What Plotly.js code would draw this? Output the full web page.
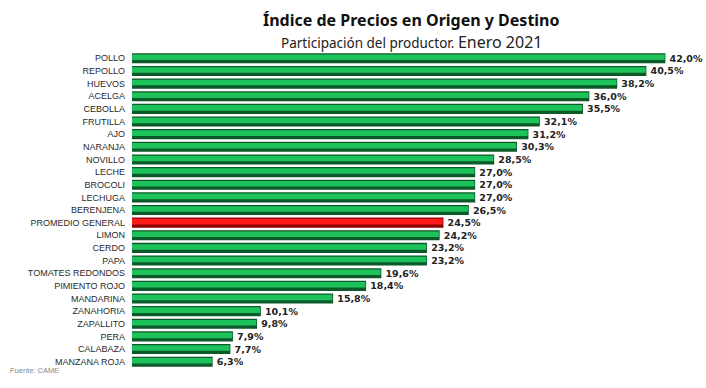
<!DOCTYPE html>
<html><head><meta charset="utf-8">
<script src="https://cdn.plot.ly/plotly-3.0.1.min.js"></script>
<style>html,body{margin:0;padding:0;background:#fff}#chart{width:706px;height:388px}</style>
</head><body><div id="chart"></div>
<script>
const categories = ["POLLO","REPOLLO","HUEVOS","ACELGA","CEBOLLA","FRUTILLA","AJO","NARANJA","NOVILLO","LECHE","BROCOLI","LECHUGA","BERENJENA","PROMEDIO GENERAL","LIMON","CERDO","PAPA","TOMATES REDONDOS","PIMIENTO ROJO","MANDARINA","ZANAHORIA","ZAPALLITO","PERA","CALABAZA","MANZANA ROJA"];
const values = [42.0,40.5,38.2,36.0,35.5,32.1,31.2,30.3,28.5,27.0,27.0,27.0,26.5,24.5,24.2,23.2,23.2,19.6,18.4,15.8,10.1,9.8,7.9,7.7,6.3];
const highlight = "PROMEDIO GENERAL";

const labels = values.map(v => '\u2009' + v.toFixed(1).replace('.', ',') + '%');
const darkCols = categories.map(c => c === highlight ? '#8f0000' : '#0b5a29');
const lightCols = categories.map(c => c === highlight ? '#ff1a1a' : '#1ec25a');

const dark = {
  type: 'bar', orientation: 'h', x: values, y: categories,
  width: 0.68, marker: {color: darkCols, line: {color: darkCols, width: 1.5}},
  text: labels, textposition: 'outside', cliponaxis: false, constraintext: 'none',
  textfont: {family: 'DejaVu Sans', size: 9.5, color: '#222', weight: 'bold'},
  hoverinfo: 'skip'
};
const light = {
  type: 'bar', orientation: 'h', x: values, y: categories,
  width: 0.44, offset: -0.3, marker: {color: lightCols},
  hoverinfo: 'skip'
};

const layout = {
  width: 706, height: 388,
  margin: {l: 132, r: 16, t: 52, b: 20},
  barmode: 'overlay', showlegend: false,
  paper_bgcolor: '#fff', plot_bgcolor: '#fff',
  xaxis: {range: [0, 44], visible: false, fixedrange: true},
  yaxis: {autorange: 'reversed', type: 'category', showgrid: false, zeroline: false,
          showline: false, ticks: '', ticklabelstandoff: 6,
          tickfont: {family: 'Liberation Sans', size: 9, color: '#2a2a2a'}},
  annotations: [
    {text: '<b>Índice de Precios en Origen y Destino</b>', xref: 'paper', yref: 'paper',
     x: 0.5, xanchor: 'center', y: 1.101, yanchor: 'middle', showarrow: false,
     font: {family: 'Noto Sans', size: 16, color: '#111'}},
    {text: 'Participación del productor. <span style="font-size:16px">Enero 2021</span>', xref: 'paper', yref: 'paper',
     x: 0.5, xanchor: 'center', y: 1.032, yanchor: 'middle', showarrow: false,
     font: {family: 'Noto Sans', size: 13.5, color: '#222'}},
    {text: 'Fuente: CAME', xref: 'paper', yref: 'paper', x: -0.222, xanchor: 'left',
     y: 0, yanchor: 'top', yshift: 4, showarrow: false,
     font: {family: 'Liberation Sans', size: 7.5, color: '#888'}}
  ]
};
Plotly.newPlot('chart', [dark, light], layout, {staticPlot: true, displayModeBar: false});
</script></body></html>
